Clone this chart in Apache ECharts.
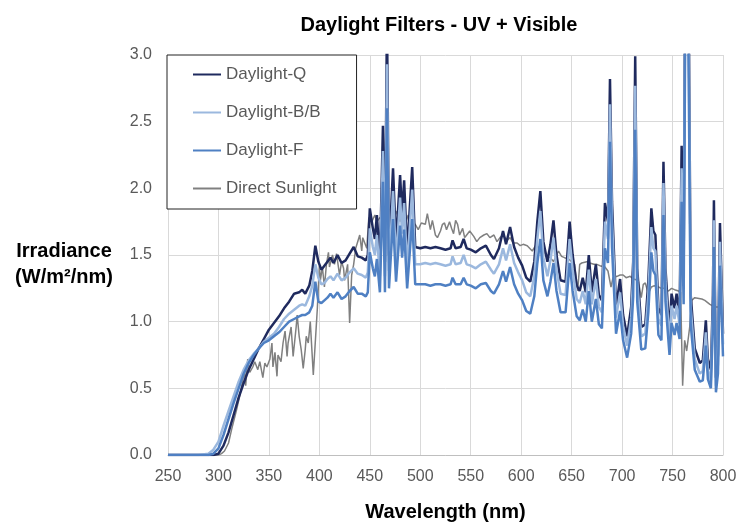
<!DOCTYPE html>
<html>
<head>
<meta charset="utf-8">
<script src="https://cdn.jsdelivr.net/npm/echarts@6/dist/echarts.min.js"></script>
<style>
  html, body { margin: 0; padding: 0; background: #fff; }
  #main { width: 754px; height: 527px; }
</style>
</head>
<body>
<div id="main"></div>
<script>
// lamp spectra share one wavelength list
const lampWl = [250, 260, 270, 280, 290, 295, 300, 305, 310, 315, 320, 325, 330, 335, 340, 345, 350, 355, 360, 365,
  370, 375, 380, 383, 386, 390, 393, 396, 399, 402, 405, 408, 411, 414, 418, 422, 426, 430, 434, 438,
  442, 446, 448, 450, 453, 455, 457, 460, 463, 465, 467, 469, 473, 476, 480, 482, 484, 487, 492, 495,
  500, 505, 510, 515, 520, 525, 530, 532, 535, 540, 543, 546, 550, 555, 560, 565, 570, 573, 578, 582,
  585, 589, 593, 597, 601, 605, 609, 613, 616, 619, 622, 626, 629, 632, 635, 639, 644, 648, 651, 655,
  658, 661, 664, 667, 670, 674, 677, 680, 683, 686, 688, 690, 694, 698, 701, 705, 709, 711, 713, 715,
  719, 723, 726, 729, 731, 733, 736, 739, 741, 743, 747, 749, 752, 754, 757, 759, 761, 763, 765, 768,
  772, 777, 780, 783, 785, 788, 790, 791, 793, 795, 797, 800];

const daylightQ = [0, 0, 0, 0, 0, 0, 0.01, 0.07, 0.17, 0.30, 0.43, 0.54, 0.64, 0.72, 0.80, 0.87, 0.94, 0.99, 1.04, 1.10,
  1.15, 1.21, 1.22, 1.24, 1.21, 1.27, 1.38, 1.57, 1.45, 1.39, 1.42, 1.45, 1.48, 1.44, 1.50, 1.44, 1.46, 1.51, 1.56, 1.49,
  1.48, 1.46, 1.50, 1.85, 1.70, 1.62, 1.80, 1.45, 2.47, 1.45, 3.30, 1.50, 2.15, 1.58, 2.10, 1.80, 2.06, 1.52, 2.16, 1.56,
  1.55, 1.56, 1.55, 1.56, 1.55, 1.54, 1.55, 1.61, 1.55, 1.56, 1.62, 1.55, 1.54, 1.52, 1.55, 1.57, 1.50, 1.47, 1.55, 1.68,
  1.58, 1.71, 1.56, 1.48, 1.42, 1.33, 1.30, 1.45, 1.75, 1.98, 1.60, 1.45, 1.58, 1.76, 1.50, 1.31, 1.30, 1.75, 1.50, 1.27,
  1.23, 1.33, 1.22, 1.50, 1.22, 1.43, 1.20, 1.16, 1.89, 1.75, 2.82, 1.90, 1.11, 1.32, 1.05, 0.89, 1.11, 1.45, 2.99, 1.40,
  0.96, 0.98, 1.30, 1.85, 1.68, 1.65, 1.10, 1.05, 2.20, 1.40, 0.91, 1.21, 1.10, 1.21, 1.06, 2.32, 1.38, 4.50, 4.50, 1.20,
  0.80, 0.69, 0.71, 1.01, 0.72, 0.64, 1.20, 1.91, 0.58, 0.75, 1.74, 0.91];

const daylightBB = [0, 0, 0, 0, 0.01, 0.04, 0.10, 0.22, 0.33, 0.44, 0.55, 0.64, 0.71, 0.76, 0.80, 0.85, 0.88, 0.91, 0.96, 1.02,
  1.06, 1.09, 1.12, 1.13, 1.12, 1.19, 1.27, 1.43, 1.33, 1.28, 1.29, 1.32, 1.34, 1.31, 1.36, 1.31, 1.33, 1.37, 1.40, 1.36,
  1.35, 1.33, 1.37, 1.70, 1.56, 1.50, 1.65, 1.34, 2.28, 1.34, 2.93, 1.38, 1.98, 1.45, 1.93, 1.66, 1.89, 1.40, 1.99, 1.43,
  1.43, 1.44, 1.43, 1.44, 1.43, 1.42, 1.43, 1.49, 1.43, 1.44, 1.50, 1.43, 1.42, 1.40, 1.43, 1.45, 1.39, 1.36, 1.43, 1.55,
  1.46, 1.58, 1.44, 1.37, 1.31, 1.22, 1.19, 1.34, 1.62, 1.83, 1.48, 1.34, 1.46, 1.63, 1.39, 1.21, 1.20, 1.62, 1.39, 1.17,
  1.14, 1.23, 1.13, 1.39, 1.13, 1.32, 1.11, 1.07, 1.75, 1.62, 2.63, 1.76, 1.03, 1.22, 0.97, 0.82, 1.03, 1.34, 2.77, 1.30,
  0.89, 0.91, 1.20, 1.71, 1.55, 1.53, 1.02, 0.97, 2.04, 1.30, 0.84, 1.12, 1.02, 1.12, 0.98, 2.15, 1.28, 4.20, 4.20, 1.11,
  0.72, 0.61, 0.63, 0.92, 0.64, 0.56, 1.08, 1.76, 0.52, 0.68, 1.60, 0.83];

const daylightF = [0, 0, 0, 0, 0, 0.01, 0.05, 0.15, 0.27, 0.39, 0.50, 0.61, 0.69, 0.75, 0.80, 0.84, 0.86, 0.89, 0.92, 0.96,
  1.00, 1.02, 1.04, 1.05, 1.05, 1.07, 1.12, 1.30, 1.15, 1.14, 1.16, 1.18, 1.21, 1.18, 1.22, 1.17, 1.19, 1.23, 1.26, 1.21,
  1.21, 1.19, 1.22, 1.52, 1.40, 1.34, 1.47, 1.22, 2.05, 1.22, 2.60, 1.25, 1.77, 1.30, 1.72, 1.48, 1.69, 1.25, 1.77, 1.28,
  1.28, 1.28, 1.27, 1.28, 1.28, 1.27, 1.28, 1.33, 1.28, 1.28, 1.33, 1.28, 1.27, 1.25, 1.28, 1.29, 1.23, 1.21, 1.28, 1.38,
  1.30, 1.41, 1.28, 1.21, 1.16, 1.08, 1.06, 1.19, 1.44, 1.62, 1.31, 1.19, 1.30, 1.44, 1.23, 1.07, 1.07, 1.44, 1.23, 1.04,
  1.01, 1.09, 1.00, 1.23, 1.00, 1.17, 0.98, 0.95, 1.55, 1.44, 2.35, 1.56, 0.91, 1.08, 0.86, 0.73, 0.91, 1.19, 2.44, 1.15,
  0.79, 0.80, 1.07, 1.52, 1.38, 1.35, 0.90, 0.86, 1.80, 1.15, 0.75, 0.99, 0.90, 0.99, 0.87, 1.90, 1.13, 3.80, 3.80, 0.98,
  0.64, 0.55, 0.56, 0.82, 0.57, 0.50, 0.97, 1.56, 0.47, 0.61, 1.42, 0.74];

// direct sunlight has its own sampling
const sunWl = [250, 280, 300, 303, 306, 310, 313, 318, 321, 324, 326, 327, 329, 331, 334, 336, 339, 341, 343, 344,
  346, 348, 351, 353, 354, 356, 358, 359, 362, 364, 366, 368, 369, 372, 374, 377, 378, 380, 382, 384,
  386, 387, 389, 391, 392, 394, 396, 398, 400, 401, 403, 405, 407, 409, 410, 413, 415, 417, 420, 422,
  424, 425, 428, 430, 432, 434, 436, 438, 440, 442, 443, 447, 449, 452, 455, 457, 460, 463, 467, 470,
  473, 477, 480, 482, 485, 488, 491, 495, 498, 501, 505, 507, 510, 512, 515, 517, 520, 522, 524, 526,
  529, 531, 533, 535, 537, 539, 542, 544, 546, 549, 553, 556, 559, 563, 566, 569, 573, 576, 579, 582,
  586, 589, 592, 596, 599, 602, 606, 611, 615, 619, 622, 625, 629, 632, 637, 640, 643, 647, 650, 653,
  656, 658, 660, 665, 668, 672, 675, 678, 683, 686, 689, 691, 695, 698, 701, 704, 708, 711, 716, 719,
  721, 723, 726, 729, 732, 736, 739, 742, 746, 749, 752, 756, 758, 760, 762, 764, 767, 769, 772, 779,
  782, 787, 792, 795, 800];

const sunlight = [0, 0, 0, 0.01, 0.03, 0.09, 0.19, 0.34, 0.44, 0.56, 0.63, 0.52, 0.72, 0.62, 0.66, 0.70, 0.64, 0.70, 0.62, 0.58,
  0.69, 0.66, 0.72, 0.84, 0.66, 0.77, 0.59, 0.75, 0.70, 0.84, 0.93, 0.74, 0.84, 0.96, 0.74, 0.96, 1.05, 0.89, 0.79, 0.65,
  0.79, 0.89, 0.84, 1.00, 1.00, 0.60, 0.85, 1.10, 1.42, 1.31, 1.41, 1.26, 1.43, 1.52, 1.41, 1.50, 1.43, 1.51, 1.35, 1.45,
  1.40, 1.31, 1.43, 0.99, 1.35, 1.43, 1.55, 1.60, 1.65, 1.53, 1.63, 1.55, 1.78, 1.75, 1.80, 1.75, 1.78, 1.79, 1.78, 1.80,
  1.75, 1.83, 1.75, 1.83, 1.73, 1.80, 1.75, 1.73, 1.69, 1.74, 1.73, 1.81, 1.69, 1.76, 1.65, 1.63, 1.68, 1.73, 1.74, 1.69,
  1.75, 1.70, 1.66, 1.76, 1.73, 1.65, 1.70, 1.63, 1.65, 1.68, 1.64, 1.60, 1.63, 1.65, 1.66, 1.63, 1.65, 1.60, 1.63, 1.65,
  1.61, 1.63, 1.59, 1.59, 1.57, 1.58, 1.57, 1.53, 1.58, 1.53, 1.54, 1.49, 1.48, 1.45, 1.53, 1.49, 1.48, 1.47, 1.45, 1.43,
  1.23, 1.43, 1.44, 1.45, 1.44, 1.43, 1.43, 1.42, 1.41, 1.38, 1.26, 1.33, 1.34, 1.35, 1.35, 1.33, 1.34, 1.32, 1.31, 1.18,
  1.28, 1.29, 1.21, 1.26, 1.27, 1.26, 1.25, 1.25, 1.23, 1.25, 1.24, 1.23, 1.22, 0.52, 0.86, 0.78, 0.96, 1.16, 1.18, 1.17,
  1.16, 1.13, 1.11, 1.11, 1.10];

const seriesNames = ["Daylight-Q", "Daylight-B/B", "Daylight-F", "Direct Sunlight"];

const pairs = (xs, ys) => xs.map((x, i) => [x, ys[i]]);
const font = "'Liberation Sans', Arial, sans-serif";

let option = {
  animation: false,
  backgroundColor: "#fff",
  title: {
    text: "Daylight Filters - UV + Visible",
    left: 434,
    top: 10,
    textAlign: "center",
    textStyle: { fontFamily: font, fontSize: 20, fontWeight: "bold", color: "#000" },
  },
  // y axis title sits horizontally to the left, two lines
  graphic: [
    {
      type: "text",
      x: 64,
      y: 264,
      style: {
        text: "Irradiance\n(W/m²/nm)",
        font: "bold 20px 'Liberation Sans', Arial, sans-serif",
        fill: "#000",
        align: "center",
        verticalAlign: "middle",
        lineHeight: 26,
      },
    },
  ],
  legend: {
    orient: "vertical",
    left: 167,
    top: 55,
    data: seriesNames,
    backgroundColor: "#fff",
    borderColor: "#222",
    borderWidth: 1,
    borderRadius: 0,
    padding: [11, 20, 12, 25],
    itemWidth: 28,
    itemHeight: 14,
    itemGap: 21,
    itemStyle: { opacity: 0 },
    textStyle: { fontFamily: font, fontSize: 17, color: "#595959" },
  },
  grid: { left: 168, right: 31, top: 55, bottom: 68 },
  xAxis: {
    type: "value",
    min: 250,
    max: 800,
    interval: 50,
    name: "Wavelength (nm)",
    nameLocation: "middle",
    nameGap: 47,
    nameTextStyle: { fontFamily: font, fontSize: 20, fontWeight: "bold", color: "#000" },
    axisLine: { show: true, lineStyle: { color: "#bfbfbf", width: 1 } },
    axisTick: { show: false },
    axisLabel: { fontFamily: font, fontSize: 16, color: "#595959", margin: 14 },
    splitLine: { show: true, lineStyle: { color: "#d9d9d9", width: 1 } },
  },
  yAxis: {
    type: "value",
    min: 0,
    max: 3,
    interval: 0.5,
    axisLine: { show: false },
    axisTick: { show: false },
    axisLabel: {
      fontFamily: font, fontSize: 16, color: "#595959", margin: 16,
      formatter: (v) => v.toFixed(1),
    },
    splitLine: { show: true, lineStyle: { color: "#d9d9d9", width: 1 } },
  },
  series: [
    {
      name: "Daylight-Q",
      type: "line",
      symbol: "none",
      z: 3,
      data: pairs(lampWl, daylightQ),
      lineStyle: { color: "#1f2a5e", width: 2.5 },
      itemStyle: { color: "#1f2a5e" },
    },
    {
      name: "Daylight-B/B",
      type: "line",
      symbol: "none",
      z: 3,
      data: pairs(lampWl, daylightBB),
      lineStyle: { color: "#9bb8de", width: 2.5 },
      itemStyle: { color: "#9bb8de" },
    },
    {
      name: "Daylight-F",
      type: "line",
      symbol: "none",
      z: 3,
      data: pairs(lampWl, daylightF),
      lineStyle: { color: "#4f80c3", width: 2.5 },
      itemStyle: { color: "#4f80c3" },
    },
    {
      name: "Direct Sunlight",
      type: "line",
      symbol: "none",
      z: 2,
      data: pairs(sunWl, sunlight),
      lineStyle: { color: "#808080", width: 1.5 },
      itemStyle: { color: "#808080" },
    },
  ],
};

var myChart = echarts.init(document.getElementById("main"));
myChart.setOption(option);

window.onresize = function () {
  myChart.resize();
};
</script>
</body>
</html>
